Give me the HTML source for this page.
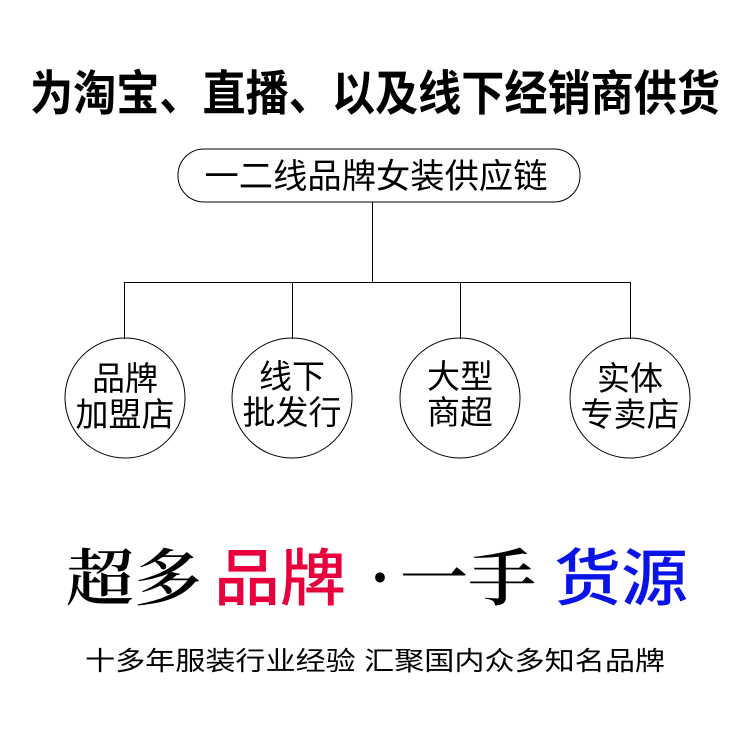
<!DOCTYPE html>
<html><head><meta charset="utf-8"><style>
html,body{margin:0;padding:0;background:#fff;}
svg{display:block}
</style></head><body>
<svg width="750" height="750" viewBox="0 0 750 750" xmlns="http://www.w3.org/2000/svg">
<rect width="750" height="750" fill="#fff"/>
<text x="375" y="110" text-anchor="middle" font-family="Liberation Sans, Noto Sans CJK SC, sans-serif" font-weight="bold" font-size="48" textLength="690" lengthAdjust="spacingAndGlyphs" fill="#000">为淘宝、直播、以及线下经销商供货</text>
<rect x="178" y="149" width="402" height="53" rx="26" ry="26" fill="#fff" stroke="#000" stroke-width="1"/>
<text x="376" y="188" text-anchor="middle" font-family="Liberation Sans, Noto Sans CJK SC, sans-serif" font-size="34" textLength="343" lengthAdjust="spacingAndGlyphs" fill="#000">一二线品牌女装供应链</text>
<g stroke="#000" stroke-width="1" fill="none">
<line x1="372.5" y1="202" x2="372.5" y2="282"/>
<line x1="124.5" y1="282.5" x2="630.5" y2="282.5"/>
<line x1="124.5" y1="282" x2="124.5" y2="339"/>
<line x1="292.5" y1="282" x2="292.5" y2="339"/>
<line x1="460.5" y1="282" x2="460.5" y2="339"/>
<line x1="630.5" y1="282" x2="630.5" y2="339"/>
<ellipse cx="125" cy="398" rx="60" ry="60"/>
<ellipse cx="292" cy="398" rx="60" ry="60"/>
<ellipse cx="460" cy="398" rx="60" ry="60"/>
<ellipse cx="630" cy="398" rx="60" ry="60"/>
</g>
<g font-family="Liberation Sans, Noto Sans CJK SC, sans-serif" font-size="33" text-anchor="middle" fill="#000">
<text x="125" y="390">品牌</text><text x="125" y="426">加盟店</text>
<text x="292" y="388">线下</text><text x="292" y="424">批发行</text>
<text x="460" y="388">大型</text><text x="460" y="424">商超</text>
<text x="630" y="390">实体</text><text x="630" y="426">专卖店</text>
</g>
<g font-size="62" fill="#000">
<text x="66" y="600" font-family="Noto Serif CJK SC, serif" font-weight="600" textLength="136" lengthAdjust="spacingAndGlyphs">超多</text>
<text x="214" y="600" font-family="Noto Sans CJK SC, sans-serif" font-weight="500" fill="#e8003d" textLength="132" lengthAdjust="spacingAndGlyphs">品牌</text>
<text x="370" y="600" font-family="Noto Serif CJK SC, serif" font-weight="bold" textLength="20" lengthAdjust="spacingAndGlyphs">·</text>
<text x="400" y="600" font-family="Noto Serif CJK SC, serif" font-weight="600" textLength="136" lengthAdjust="spacingAndGlyphs">一手</text>
<text x="554" y="600" font-family="Noto Sans CJK SC, sans-serif" font-weight="500" fill="#0a14e6" textLength="134" lengthAdjust="spacingAndGlyphs">货源</text>
</g>
<text x="375" y="670" text-anchor="middle" font-family="Liberation Sans, Noto Sans CJK SC, sans-serif" font-size="26" textLength="580" lengthAdjust="spacingAndGlyphs" fill="#000">十多年服装行业经验 汇聚国内众多知名品牌</text>
</svg>
</body></html>
